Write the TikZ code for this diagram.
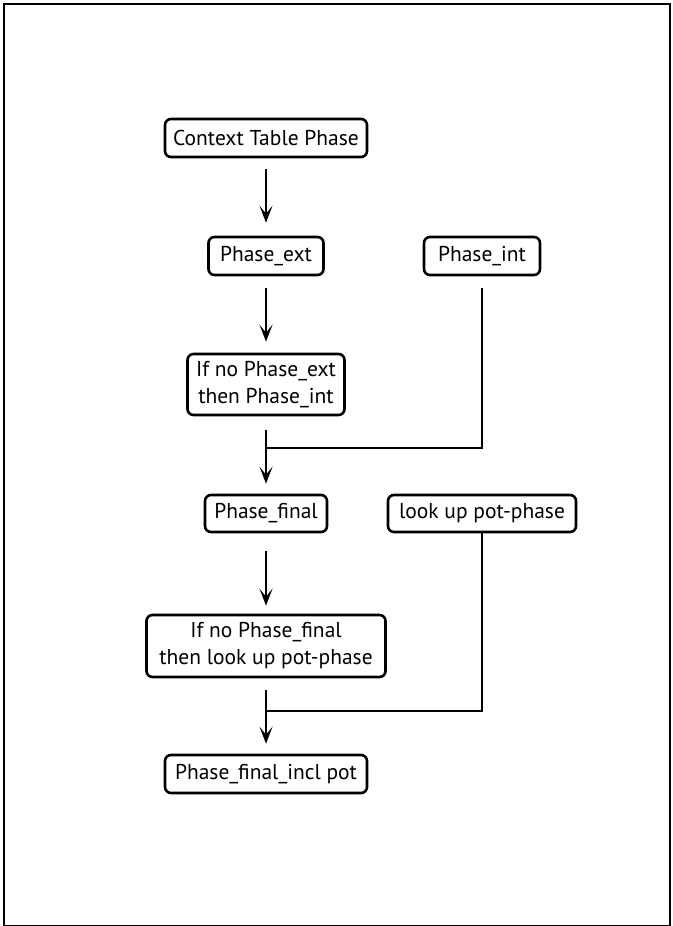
\documentclass[tikz,border=0pt]{standalone}
\usepackage{fontspec}
\setmainfont{PT Sans}
\usetikzlibrary{arrows.meta}
\tikzset{
  box/.style={draw, line width=2.6pt, rounded corners=6pt, align=center, inner sep=0pt, font=\fontsize{21.5}{27}\selectfont},
  arr/.style={line width=1.5pt, -{Stealth[length=17pt,width=13pt,inset=8pt]}},
  ln/.style={line width=1.3pt}
}
\begin{document}
\begin{tikzpicture}[x=1pt,y=-1pt]
\useasboundingbox (0,0) rectangle (672,926);
\draw[line width=2.8pt] (4,4) rectangle (670,926);
\node[box, minimum width=202pt, minimum height=38pt] (ctx) at (266,138) {Context Table Phase};
\node[box, minimum width=115pt, minimum height=38pt] (ext) at (266,256) {Phase\_ext};
\node[box, minimum width=116pt, minimum height=38pt] (int) at (482,256) {Phase\_int};
\node[box, minimum width=157pt, minimum height=61pt] (ifext) at (266,384.5) {If no Phase\_ext\\then Phase\_int};
\node[box, minimum width=122pt, minimum height=37pt] (final) at (266,513.5) {Phase\_final};
\node[box, minimum width=188pt, minimum height=37pt] (look) at (482,513.5) {look up pot-phase};
\node[box, minimum width=239pt, minimum height=62pt] (iffinal) at (266,646) {If no Phase\_final\\then look up pot-phase};
\node[box, minimum width=202pt, minimum height=38pt] (incl) at (266,774) {Phase\_final\_incl pot};
\coordinate (j1) at (266,448);
\coordinate (j2) at (266,711);
\draw[arr, shorten <=11pt, shorten >=13pt] (ctx.south) -- (ext.north);
\draw[arr, shorten <=12pt, shorten >=11pt] (ext.south) -- (ifext.north);
\draw[arr, shorten <=14pt, shorten >=10pt] (ifext.south) -- (final.north);
\draw[arr, shorten <=18pt, shorten >=8pt] (final.south) -- (iffinal.north);
\draw[arr, shorten <=12pt, shorten >=10pt] (iffinal.south) -- (incl.north);
\draw[ln] ([yshift=-12pt]int.south) |- (j1);
\draw[ln] (look.south) |- (j2);
\end{tikzpicture}
\end{document}
